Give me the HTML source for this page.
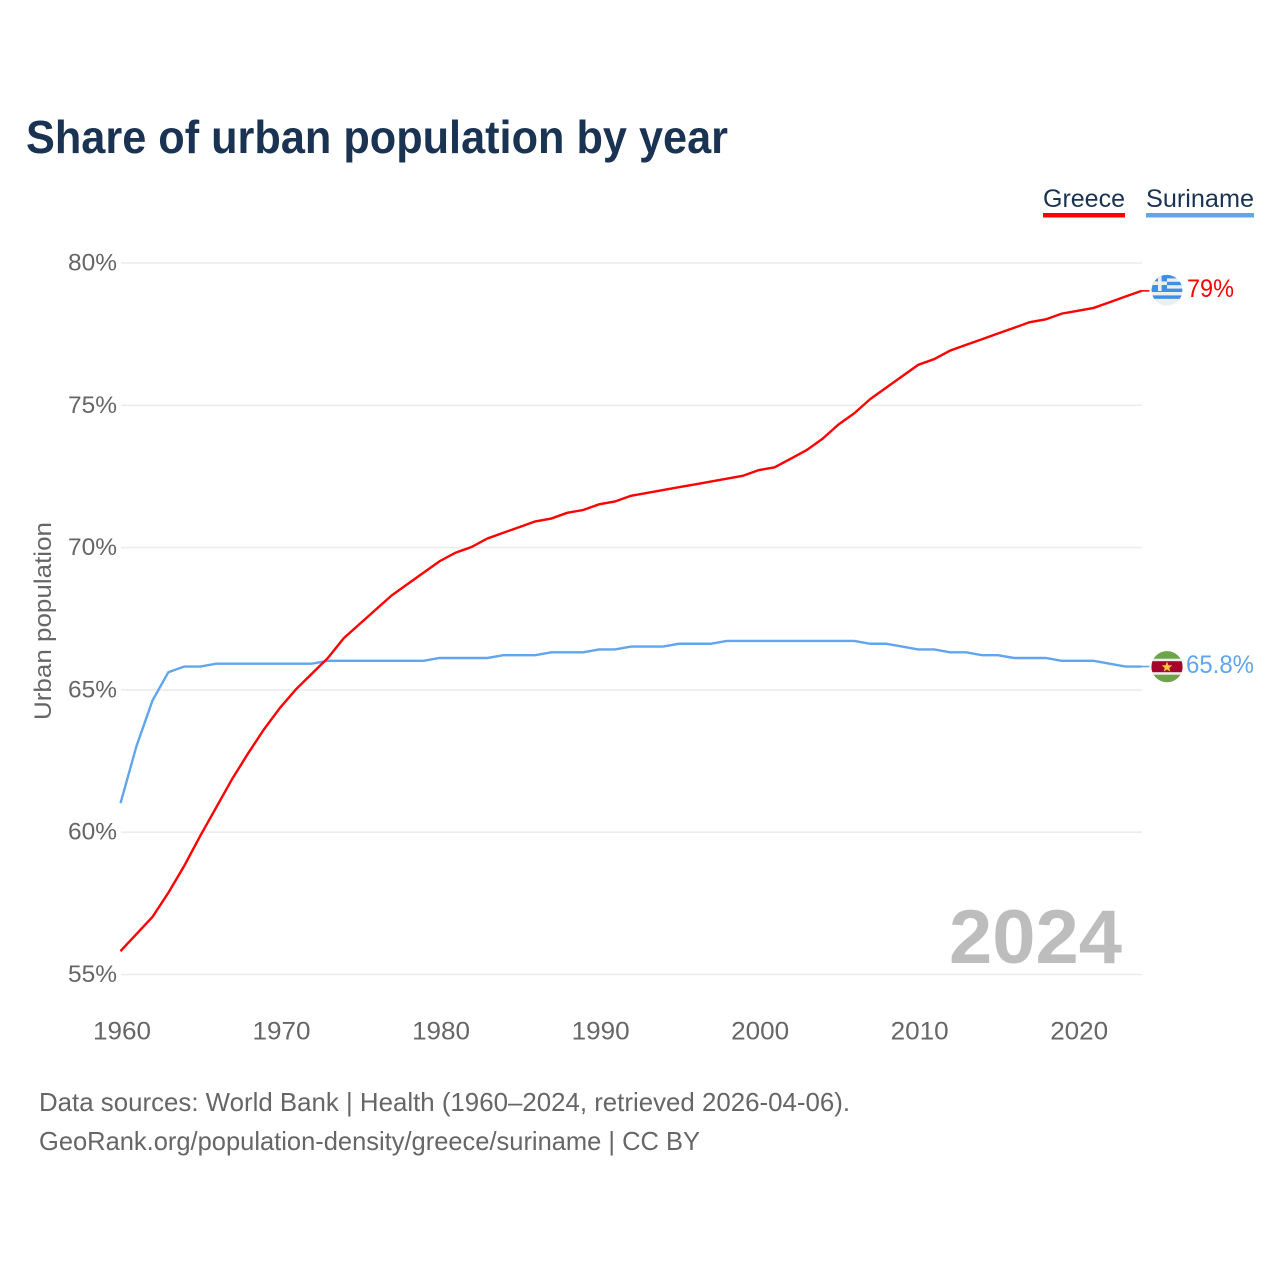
<!DOCTYPE html>
<html lang="en">
<head>
<meta charset="utf-8">
<title>Share of urban population by year</title>
<style>
html,body{margin:0;padding:0;background:#fff;}
svg{display:block;font-family:"Liberation Sans",sans-serif;}
</style>
</head>
<body>
<svg id="chart" width="1280" height="1280" viewBox="0 0 1280 1280" xmlns="http://www.w3.org/2000/svg">
  <defs>
    <clipPath id="clip-gr"><circle cx="1167" cy="290.3" r="15.4"></circle></clipPath>
    <clipPath id="clip-sr"><circle cx="1167" cy="666.7" r="15.6"></circle></clipPath>
  </defs>
  <rect width="1280" height="1280" fill="#fff"></rect>
  <text x="26" y="153" font-size="46" font-weight="700" fill="#1a3353" textLength="702" lengthAdjust="spacingAndGlyphs">Share of urban population by year</text>

  <g id="grid"></g>
  <g id="yticks"></g>
  <g id="xticks"></g>

  <text transform="translate(51,720) rotate(-90)" font-size="24" fill="#666" textLength="198" lengthAdjust="spacingAndGlyphs">Urban population</text>

  <text x="949" y="963" font-size="76" font-weight="700" fill="#bdbdbd" textLength="173" lengthAdjust="spacingAndGlyphs">2024</text>

  <g id="series" transform="translate(-0.5,-0.6)"></g>

  <g>
    <text x="1043" y="207" font-size="25" fill="#1a3353" textLength="82" lengthAdjust="spacingAndGlyphs">Greece</text>
    <rect x="1043" y="213" width="82" height="4.5" fill="#ff0000"></rect>
  </g>
  <g>
    <text x="1146" y="207" font-size="25" fill="#1a3353" textLength="108" lengthAdjust="spacingAndGlyphs">Suriname</text>
    <rect x="1146" y="213" width="108" height="4.5" fill="#60a5ee"></rect>
  </g>

  <g clip-path="url(#clip-gr)">
    <rect x="1151" y="274" width="32" height="33" fill="#eeeeee"></rect>
    <rect x="1151" y="274" width="32" height="4.4" fill="#3d8fe8"></rect>
    <rect x="1151" y="281.8" width="32" height="3.4" fill="#3d8fe8"></rect>
    <rect x="1151" y="288.6" width="32" height="3.4" fill="#3d8fe8"></rect>
    <rect x="1151" y="295.4" width="32" height="3.4" fill="#3d8fe8"></rect>
    <rect x="1151" y="274" width="16" height="17" fill="#3d8fe8"></rect>
    <rect x="1158" y="274" width="3.6" height="17" fill="#eeeeee"></rect>
    <rect x="1151" y="281.4" width="16" height="3.6" fill="#eeeeee"></rect>
  </g>
  <g clip-path="url(#clip-sr)">
    <rect x="1151" y="650" width="32" height="34" fill="#6ea24b"></rect>
    <rect x="1151" y="658.7" width="32" height="16" fill="#eeeeee"></rect>
    <rect x="1151" y="661.2" width="32" height="11" fill="#a5052a"></rect>
    <polygon points="1167,661.6 1168.4,665.2 1172.3,665.4 1169.3,667.9 1170.3,671.6 1167,669.5 1163.7,671.6 1164.7,667.9 1161.7,665.4 1165.6,665.2" fill="#f9c83a"></polygon>
  </g>

  <text x="1187" y="297" font-size="25" fill="#ff0000" textLength="47" lengthAdjust="spacingAndGlyphs">79%</text>
  <text x="1186" y="673" font-size="25" fill="#60a5ee" textLength="68" lengthAdjust="spacingAndGlyphs">65.8%</text>

  <text x="39" y="1111" font-size="26" fill="#666" textLength="811" lengthAdjust="spacingAndGlyphs">Data sources: World Bank | Health (1960–2024, retrieved 2026-04-06).</text>
  <text x="39" y="1150" font-size="26" fill="#666" textLength="661" lengthAdjust="spacingAndGlyphs">GeoRank.org/population-density/greece/suriname | CC BY</text>
</svg>
<script>
const years = [1960,1961,1962,1963,1964,1965,1966,1967,1968,1969,1970,1971,1972,1973,1974,1975,1976,1977,1978,1979,1980,1981,1982,1983,1984,1985,1986,1987,1988,1989,1990,1991,1992,1993,1994,1995,1996,1997,1998,1999,2000,2001,2002,2003,2004,2005,2006,2007,2008,2009,2010,2011,2012,2013,2014,2015,2016,2017,2018,2019,2020,2021,2022,2023,2024];
const greece = [55.8,56.4,57,57.85,58.8,59.85,60.85,61.85,62.75,63.6,64.35,65,65.55,66.1,66.8,67.3,67.8,68.3,68.7,69.1,69.5,69.8,70,70.3,70.5,70.7,70.9,71,71.2,71.3,71.5,71.6,71.8,71.9,72,72.1,72.2,72.3,72.4,72.5,72.7,72.8,73.1,73.4,73.8,74.3,74.7,75.2,75.6,76,76.4,76.6,76.9,77.1,77.3,77.5,77.7,77.9,78,78.2,78.3,78.4,78.6,78.8,79];
const suriname = [61,63,64.6,65.6,65.8,65.8,65.9,65.9,65.9,65.9,65.9,65.9,65.9,66,66,66,66,66,66,66,66.1,66.1,66.1,66.1,66.2,66.2,66.2,66.3,66.3,66.3,66.4,66.4,66.5,66.5,66.5,66.6,66.6,66.6,66.7,66.7,66.7,66.7,66.7,66.7,66.7,66.7,66.7,66.6,66.6,66.5,66.4,66.4,66.3,66.3,66.2,66.2,66.1,66.1,66.1,66,66,66,65.9,65.8,65.8];
const yTickValues = [55,60,65,70,75,80];
const xTickValues = [1960,1970,1980,1990,2000,2010,2020];

const NS = 'http://www.w3.org/2000/svg';
const xScale = function (year) { return 121 + (year - 1960) * (1142 - 121) / (2024 - 1960); };
const yScale = function (v) { return 974.5 - (v - 55) * (974.5 - 263) / (80 - 55); };
const make = function (tag, parent) {
  const el = document.createElementNS(NS, tag);
  parent.appendChild(el);
  return el;
};

const grid = document.getElementById('grid');
const yticks = document.getElementById('yticks');
const xticks = document.getElementById('xticks');
const seriesGroup = document.getElementById('series');

yTickValues.forEach(function (v) {
  const line = make('line', grid);
  
  
  line.setAttribute('x1', 121);
  line.setAttribute('x2', 1142);
  line.setAttribute('y1', yScale(v));
  line.setAttribute('y2', yScale(v));
  line.setAttribute('stroke', '#ececec');
  line.setAttribute('stroke-width', '1.6');

  const label = make('text', yticks);
  
  
  label.setAttribute('x', 68);
  label.setAttribute('y', yScale(v) + 7.5);
  label.setAttribute('font-size', '24');
  label.setAttribute('fill', '#666');
  label.setAttribute('textLength', '49');
  label.setAttribute('lengthAdjust', 'spacingAndGlyphs');
  label.textContent = v + '%';
});

xTickValues.forEach(function (year) {
  const label = make('text', xticks);
  
  
  label.setAttribute('x', xScale(year) + 1);
  label.setAttribute('y', 1039.5);
  label.setAttribute('font-size', '25');
  label.setAttribute('fill', '#666');
  label.setAttribute('text-anchor', 'middle');
  label.setAttribute('textLength', '58');
  label.setAttribute('lengthAdjust', 'spacingAndGlyphs');
  label.textContent = year;
});

const pathFor = function (values) {
  return values.map(function (v, i) {
    return (i ? 'L' : 'M') + xScale(years[i]).toFixed(2) + ' ' + yScale(v).toFixed(2);
  }).join(' ');
};

const surinameLine = make('path', seriesGroup);


surinameLine.setAttribute('d', pathFor(suriname));
surinameLine.setAttribute('fill', 'none');
surinameLine.setAttribute('stroke', '#60a5ee');
surinameLine.setAttribute('stroke-width', '2.4');

const greeceLine = make('path', seriesGroup);


greeceLine.setAttribute('d', pathFor(greece));
greeceLine.setAttribute('fill', 'none');
greeceLine.setAttribute('stroke', '#ff0000');
greeceLine.setAttribute('stroke-width', '2.4');

const greeceLead = make('line', seriesGroup);


greeceLead.setAttribute('x1', xScale(2024));
greeceLead.setAttribute('x2', 1150);
greeceLead.setAttribute('y1', yScale(greece[greece.length - 1]));
greeceLead.setAttribute('y2', yScale(greece[greece.length - 1]));
greeceLead.setAttribute('stroke', '#ff0000');
greeceLead.setAttribute('stroke-width', '1.6');

const surinameLead = make('line', seriesGroup);


surinameLead.setAttribute('x1', xScale(2024));
surinameLead.setAttribute('x2', 1150);
surinameLead.setAttribute('y1', yScale(suriname[suriname.length - 1]));
surinameLead.setAttribute('y2', yScale(suriname[suriname.length - 1]));
surinameLead.setAttribute('stroke', '#60a5ee');
surinameLead.setAttribute('stroke-width', '1.6');
</script>
</body>
</html>
